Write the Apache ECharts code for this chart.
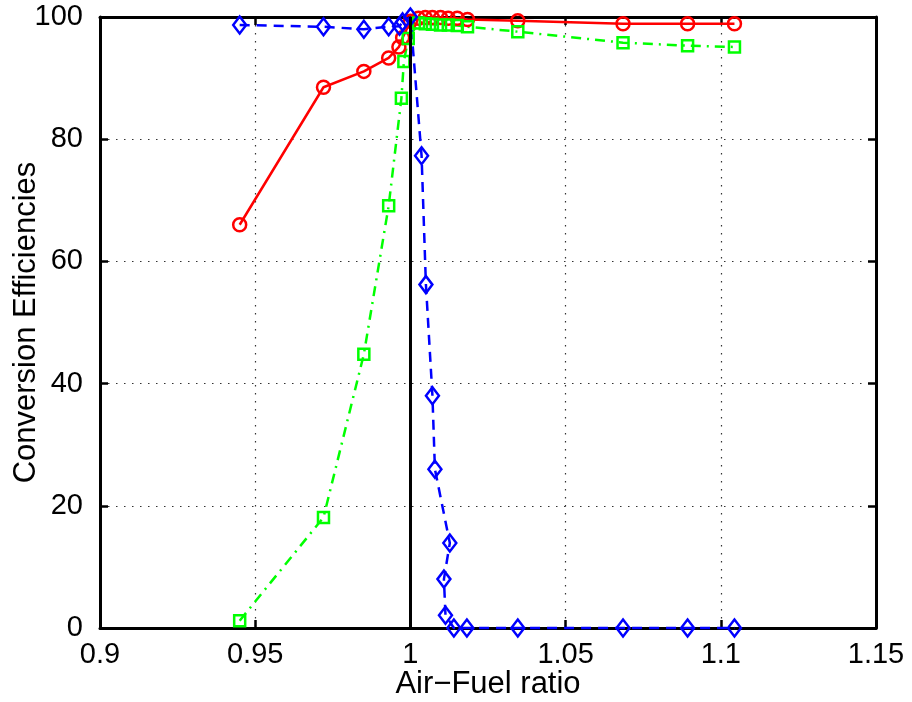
<!DOCTYPE html>
<html>
<head>
<meta charset="utf-8">
<script src="https://cdn.jsdelivr.net/npm/echarts@6/dist/echarts.min.js"></script>
<style>
  html, body { margin: 0; padding: 0; background: #fff; }
  #chart { width: 912px; height: 702px; }
</style>
</head>
<body>
<div id="chart"></div>
<script>
// x axis ticks (air-fuel ratio) and y ticks
const xTicks = [0.9, 0.95, 1, 1.05, 1.1, 1.15];
const yTicks = [0, 20, 40, 60, 80, 100];

// red circles, solid line
const redX = [0.945, 0.972, 0.985, 0.993, 0.9963, 0.9975, 1.0, 1.0026, 1.0048, 1.0071, 1.0097, 1.0122, 1.0151, 1.0184, 1.0346, 1.0685, 1.0893, 1.1044];
const redY = [66.0, 88.5, 91.1, 93.3, 95.1, 96.6, 99.3, 99.8, 99.9, 99.9, 99.9, 99.8, 99.8, 99.6, 99.4, 98.9, 98.9, 98.9];

// green squares, dash-dot line
const greenX = [0.945, 0.972, 0.985, 0.993, 0.9971, 0.9979, 0.9993, 1.0026, 1.0048, 1.0071, 1.0097, 1.0122, 1.0151, 1.0184, 1.0346, 1.0685, 1.0893, 1.1044];
const greenY = [1.2, 18.1, 44.8, 69.1, 86.7, 92.7, 96.5, 99.0, 98.9, 98.8, 98.7, 98.7, 98.6, 98.4, 97.6, 95.8, 95.3, 95.1];

// blue diamonds, dashed line
const blueX = [0.945, 0.972, 0.985, 0.993, 0.9965, 0.9975, 1.0, 1.0036, 1.005, 1.0071, 1.0079, 1.0127, 1.0108, 1.0113, 1.014, 1.0182, 1.0346, 1.0685, 1.0893, 1.1044];
const blueY = [98.7, 98.4, 98.0, 98.4, 98.5, 99.2, 100, 77.3, 56.2, 38.0, 26.0, 13.9, 8.0, 2.1, 0, 0, 0, 0, 0, 0];

const pairs = (xs, ys) => xs.map((x, i) => [x, ys[i]]);

const chart = echarts.init(document.getElementById('chart'));
const font = 'Liberation Sans, Arial, sans-serif';

const gridLine = { show: true, lineStyle: { color: '#333', type: [1.5, 6.5], width: 1.2 } };
const tickIn = { inside: true, length: 8, lineStyle: { color: '#000', width: 2.5 } };
const axisLineBlack = { show: true, onZero: false, lineStyle: { color: '#000', width: 3 } };

const option = {
  backgroundColor: '#fff',
  animation: false,
  grid: { left: 100, right: 36, top: 17, bottom: 74, containLabel: false, outerBoundsMode: 'none' },
  xAxis: [
    {
      type: 'value', min: xTicks[0], max: xTicks[xTicks.length - 1], interval: 0.05,
      name: 'Air\u2212Fuel ratio', nameLocation: 'middle', nameGap: 41, nameMoveOverlap: false,
      nameTextStyle: { fontFamily: font, fontSize: 31, color: '#000' },
      axisLine: axisLineBlack, axisTick: tickIn,
      axisLabel: { fontFamily: font, fontSize: 29, color: '#000', margin: 12,
        formatter: v => String(parseFloat(v.toFixed(2))) },
      splitLine: gridLine
    },
    {
      type: 'value', position: 'top', min: xTicks[0], max: xTicks[xTicks.length - 1], interval: 0.05,
      axisLine: axisLineBlack, axisTick: tickIn, axisLabel: { show: false }, splitLine: { show: false }
    }
  ],
  yAxis: [
    {
      type: 'value', min: yTicks[0], max: yTicks[yTicks.length - 1], interval: 20,
      name: 'Conversion Efficiencies', nameLocation: 'middle', nameGap: 58, nameMoveOverlap: false,
      nameTextStyle: { fontFamily: font, fontSize: 31, color: '#000' },
      axisLine: axisLineBlack, axisTick: tickIn,
      axisLabel: { fontFamily: font, fontSize: 29, color: '#000', margin: 17 },
      splitLine: gridLine
    },
    {
      type: 'value', position: 'right', min: yTicks[0], max: yTicks[yTicks.length - 1], interval: 20,
      axisLine: axisLineBlack, axisTick: tickIn, axisLabel: { show: false }, splitLine: { show: false }
    }
  ],
  series: [
    {
      type: 'line', data: [], silent: true,
      markLine: {
        symbol: 'none', silent: true, label: { show: false },
        lineStyle: { color: '#000', width: 3, type: 'solid' },
        data: [{ xAxis: 1 }]
      }
    },
    {
      name: 'red', type: 'line', data: pairs(redX, redY), clip: false,
      symbol: 'circle', symbolSize: 13,
      lineStyle: { color: '#ff0000', width: 2.5 },
      itemStyle: { color: 'rgba(0,0,0,0)', borderColor: '#ff0000', borderWidth: 2.5 }
    },
    {
      name: 'green', type: 'line', data: pairs(greenX, greenY), clip: false,
      symbol: 'rect', symbolSize: 11,
      lineStyle: { color: '#00ff00', width: 2.5, type: [10, 6, 2, 6] },
      itemStyle: { color: 'rgba(0,0,0,0)', borderColor: '#00ff00', borderWidth: 2.5 }
    },
    {
      name: 'blue', type: 'line', data: pairs(blueX, blueY), clip: false,
      symbol: 'diamond', symbolSize: [13, 17],
      lineStyle: { color: '#0000ff', width: 2.5, type: [10, 7] },
      itemStyle: { color: 'rgba(0,0,0,0)', borderColor: '#0000ff', borderWidth: 2.5 }
    }
  ]
};

chart.setOption(option);
</script>
</body>
</html>
